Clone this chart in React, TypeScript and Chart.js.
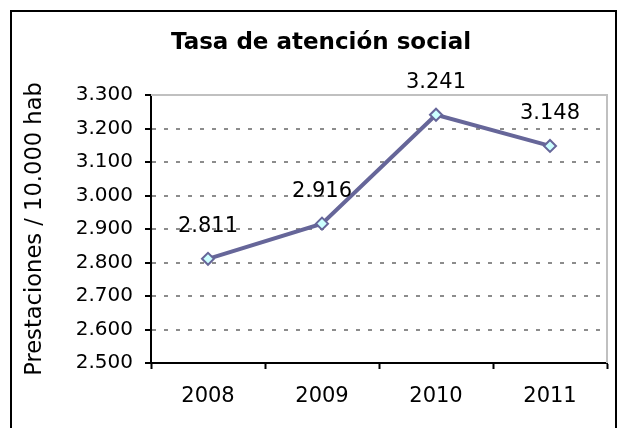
import { useEffect, useRef } from 'react';
import { Chart, registerables } from 'chart.js';

Chart.register(...registerables);

const chartTitle = 'Tasa de atención social';
const yAxisTitle = 'Prestaciones / 10.000 hab';
const categories = ['2008', '2009', '2010', '2011'];
const values = [2811, 2916, 3241, 3148];
const yMin = 2500;
const yMax = 3300;
const yStep = 100;

const fmt = (v: number) => {
  const s = Math.round(v).toString();
  return s.length > 3 ? s.slice(0, -3) + '.' + s.slice(-3) : s;
};

const FONT = 'DejaVu Sans';

const dataLabels = {
  id: 'dataLabels',
  afterDatasetsDraw(chart: any) {
    const ctx = chart.ctx;
    const meta = chart.getDatasetMeta(0);
    ctx.save();
    ctx.font = `21px "${FONT}"`;
    ctx.fillStyle = '#000';
    ctx.textAlign = 'center';
    ctx.textBaseline = 'middle';
    meta.data.forEach((pt: any, i: number) => {
      ctx.fillText(fmt(values[i]), pt.x, pt.y - 32);
    });
    ctx.restore();
  },
};

const plotFrame = {
  id: 'plotFrame',
  beforeDatasetsDraw(chart: any) {
    const { ctx, chartArea } = chart;
    ctx.save();
    ctx.strokeStyle = '#c0c0c0';
    ctx.lineWidth = 2;
    ctx.beginPath();
    ctx.moveTo(chartArea.left, chartArea.top);
    ctx.lineTo(chartArea.right, chartArea.top);
    ctx.lineTo(chartArea.right, chartArea.bottom);
    ctx.stroke();
    ctx.restore();
  },
};

export default function App() {
  const ref = useRef<HTMLCanvasElement>(null);

  useEffect(() => {
    if (!ref.current) return;
    const chart = new Chart(ref.current, {
      type: 'line',
      data: {
        labels: categories,
        datasets: [
          {
            data: values,
            borderColor: '#666699',
            borderWidth: 4,
            pointStyle: 'rectRot',
            pointRadius: 6,
            pointBackgroundColor: '#ccffff',
            pointBorderColor: '#666699',
            pointBorderWidth: 2,
            tension: 0,
            clip: false as any,
          },
        ],
      },
      options: {
        animation: false,
        responsive: true,
        maintainAspectRatio: false,
        layout: { padding: { left: 22, right: 7, top: 0, bottom: 0 } },
        plugins: {
          legend: { display: false },
          tooltip: { enabled: false },
          title: {
            display: true,
            text: chartTitle,
            color: '#000',
            font: { family: FONT, size: 23, weight: 'bold' },
            padding: { top: 17, bottom: 38.4 },
          },
        },
        scales: {
          x: {
            offset: true,
            afterFit: (s: any) => {
              s.height = 79;
            },
            grid: {
              offset: true,
              drawOnChartArea: false,
              drawTicks: true,
              tickLength: 6,
              tickColor: '#000',
              tickWidth: 2,
            },
            border: { display: true, color: '#000', width: 2 },
            ticks: {
              color: '#000',
              font: { family: FONT, size: 21 },
              padding: 15,
              maxRotation: 0,
            },
          },
          y: {
            min: yMin,
            max: yMax,
            afterFit: (s: any) => {
              s.width = 117;
            },
            ticks: {
              stepSize: yStep,
              color: '#000',
              font: { family: FONT, size: 20 },
              padding: 12,
              callback: (v: any) => fmt(Number(v)),
            },
            grid: {
              color: (c: any) =>
                c.tick && (c.tick.value === yMax || c.tick.value === yMin)
                  ? 'rgba(0,0,0,0)'
                  : '#8c8c8c',
              lineWidth: 2,
              tickLength: 6,
              tickColor: '#000',
              tickWidth: 2,
            },
            border: { display: true, color: '#000', width: 2, dash: [4, 8] },
            title: {
              display: true,
              text: yAxisTitle,
              color: '#000',
              font: { family: FONT, size: 22.6 },
              padding: { top: -12.5, bottom: 0 },
            },
          },
        },
      },
      plugins: [plotFrame, dataLabels],
    });
    return () => chart.destroy();
  }, []);

  return (
    <div
      style={{
        position: 'relative',
        left: 2,
        top: 2,
        width: 603,
        height: 430,
        border: '2px solid #000',
      }}
    >
      <canvas ref={ref} />
    </div>
  );
}
